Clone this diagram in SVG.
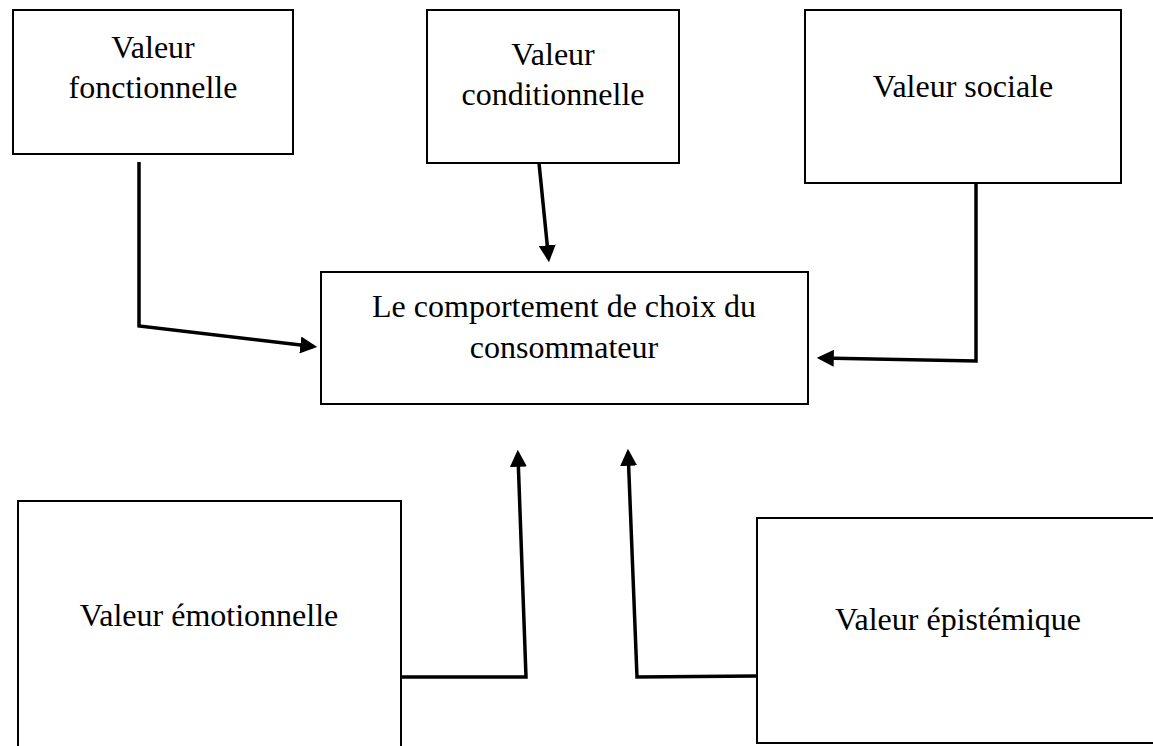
<svg xmlns="http://www.w3.org/2000/svg" width="1153" height="746" viewBox="0 0 1153 746">
  <style>
    .box { fill: #ffffff; stroke: #000000; stroke-width: 2; }
    .lbl { font-family: "Liberation Serif", "Times New Roman", serif; font-size: 32px; fill: #000000; text-anchor: middle; }
    .conn { fill: none; stroke: #000000; stroke-width: 3.5; stroke-linejoin: miter; }
  </style>
  <defs>
    <marker id="arrow" markerUnits="userSpaceOnUse" markerWidth="17" markerHeight="17" viewBox="0 0 16 16" refX="12.5" refY="8" orient="auto">
      <path d="M0,0 L16,8 L0,16 z" fill="#000000"/>
    </marker>
  </defs>
  <rect x="0" y="0" width="1153" height="746" fill="#ffffff"/>

  <g id="node-fonctionnelle">
    <rect class="box" x="13" y="10" width="280" height="144"/>
    <text class="lbl" x="153" y="58">Valeur</text>
    <text class="lbl" x="153" y="98">fonctionnelle</text>
  </g>

  <g id="node-conditionnelle">
    <rect class="box" x="427" y="10" width="252" height="153"/>
    <text class="lbl" x="553" y="65">Valeur</text>
    <text class="lbl" x="553" y="105">conditionnelle</text>
  </g>

  <g id="node-sociale">
    <rect class="box" x="805" y="10" width="316" height="173"/>
    <text class="lbl" x="963" y="97">Valeur sociale</text>
  </g>

  <g id="node-comportement">
    <rect class="box" x="321" y="272" width="487" height="132"/>
    <text class="lbl" x="564" y="317">Le comportement de choix du</text>
    <text class="lbl" x="564" y="358">consommateur</text>
  </g>

  <g id="node-emotionnelle">
    <rect class="box" x="18" y="501" width="383" height="270"/>
    <text class="lbl" x="209" y="626">Valeur émotionnelle</text>
  </g>

  <g id="node-epistemique">
    <rect class="box" x="757" y="518" width="402" height="225"/>
    <text class="lbl" x="958" y="630">Valeur épistémique</text>
  </g>

  <g id="connectors">
    <polyline class="conn" points="139,162 139,326 313.5,346.5" marker-end="url(#arrow)"/>
    <polyline class="conn" points="539,163 548.6,258.5" marker-end="url(#arrow)"/>
    <polyline class="conn" points="976,183 976,361 820.5,358" marker-end="url(#arrow)"/>
    <polyline class="conn" points="401,677 526,677 517.9,453.5" marker-end="url(#arrow)"/>
    <polyline class="conn" points="757,676 637,677 628.1,452.5" marker-end="url(#arrow)"/>
  </g>
</svg>
